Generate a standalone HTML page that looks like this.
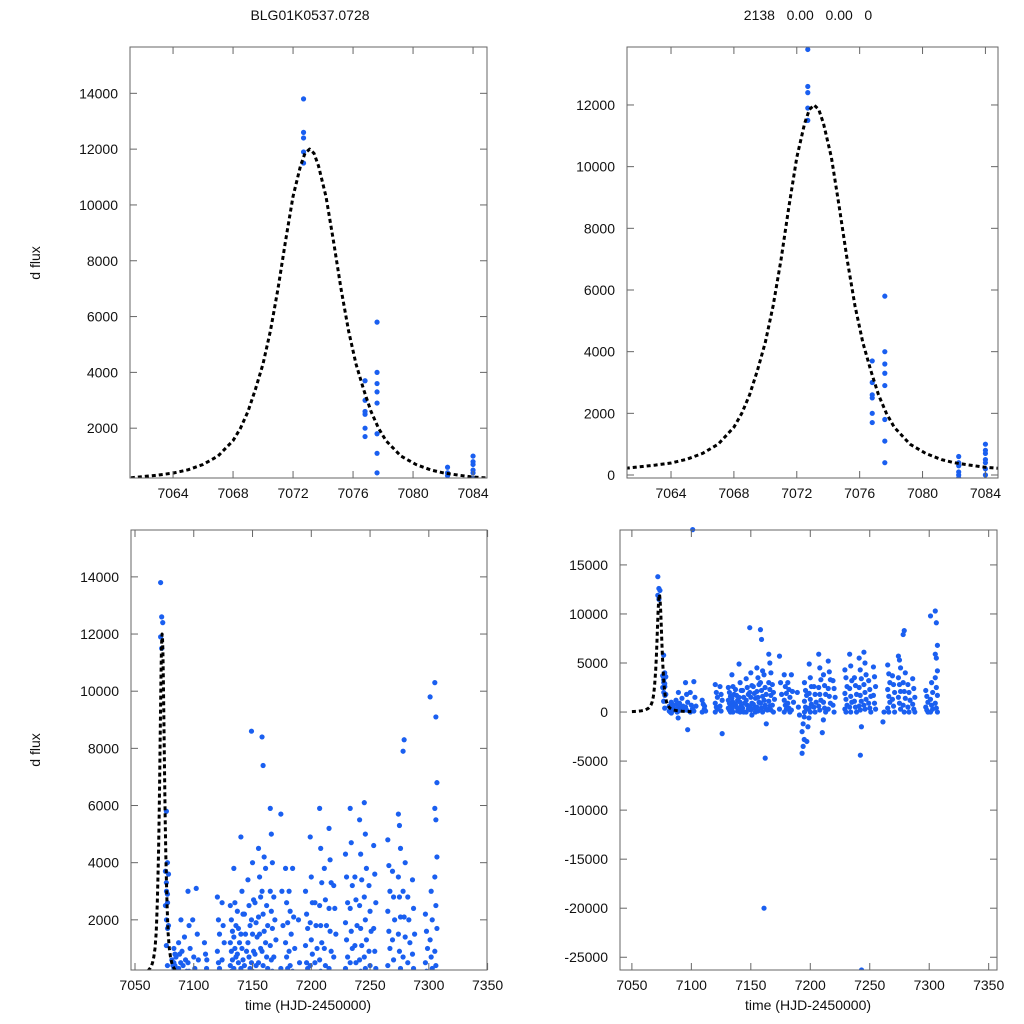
<!DOCTYPE html>
<html><head><meta charset="utf-8"><style>
html,body{margin:0;background:#fff;overflow:hidden;width:1024px;height:1024px}
svg{display:block}
svg text{font-family:"Liberation Sans",sans-serif;font-size:14px;fill:#111}
</style></head><body>
<svg id="c" width="1024" height="1024" viewBox="0 0 1024 1024">
<text x="310" y="20" text-anchor="middle">BLG01K0537.0728</text>
<text x="808" y="20" text-anchor="middle" xml:space="preserve">2138   0.00   0.00   0</text>
<text transform="translate(40,263) rotate(-90)" text-anchor="middle">d flux</text>
<text transform="translate(40,750) rotate(-90)" text-anchor="middle">d flux</text>
<text x="308" y="1010" text-anchor="middle">time (HJD-2450000)</text>
<text x="808" y="1010" text-anchor="middle">time (HJD-2450000)</text>
</svg>
<script>
const modelT=[7050,7055,7058,7060,7061,7063,7064,7065,7066,7067,7068,7068.5,7069,7069.5,7070,7070.5,7071,7071.5,7072,7072.5,7072.8,7073.1,7073.4,7073.7,7074.2,7074.7,7075.2,7075.7,7076.2,7076.7,7077.2,7077.7,7078.2,7079.2,7080.2,7081.2,7082,7083,7084,7085,7088,7092,7100];
const modelF=[40,80,130,180,210,320,390,510,700,1000,1550,2000,2600,3400,4300,5500,7000,8700,10300,11400,11850,12000,11850,11400,10300,8700,7000,5500,4300,3400,2600,2000,1550,1000,700,500,400,320,250,210,140,90,50];
const clusterT=[7072.7,7076.8,7077.6,7082.3,7084,7088,7090,7093,7096,7100,7102,7103,7110,7112,7121,7125,7132,7135,7138,7141,7144,7147,7150,7153,7156,7159,7162,7163,7166,7169,7175,7179,7182,7185,7190,7194,7196,7198,7200,7204,7208,7211,7212,7216,7220,7230,7234,7238,7242,7243,7244,7246,7250,7254,7262,7266,7270,7275,7279,7283,7287,7298,7302,7306];
const clusterF=[
[13800,12600,12400,11900,11500],
[3700,3000,2600,2500,2000,1700],
[5800,4000,3600,3300,2900,1800,1100,400],
[600,400,300,100,0,-100],
[1000,800,700,500,400,200,0],
[1200,800,500,300,0,-600],
[2000,900,400,100],
[1400,600,200],
[3000,1800,1000,500,200,-1800],
[2000,700,300,0],
[18600],
[3100,1500,600,100],
[1200,800,300,0],
[600,100],
[2800,2000,1500,900,500,300,0],
[2600,1800,1200,600,100,-2200],
[2500,2000,1600,1200,900,600,400,200,0],
[3800,2600,1800,1400,1000,700,300,0],
[2300,1700,1200,800,500,100],
[4900,3000,2200,1500,1000,600,300,0],
[2200,1500,900,400,0],
[3400,2500,1800,1200,700,300,0],
[8600,4000,2700,2000,1500,900,500,200,-300],
[2600,1900,1400,800,400,0],
[4500,3500,2800,2100,1500,1000,500,100],
[8400,7400,4200,3000,2200,1600,900,400,0],
[3800,2500,1800,1200,700,300,-20000],
[-4700,-1200,200],
[5900,5000,4000,3000,2300,1700,1100,600,200],
[2800,2000,1300,700,0],
[5700,3000,1800,300],
[3800,2600,1900,1200,700,300,0],
[3000,2300,1500,900,400,0],
[3800,2100,1000,200],
[2000,500,-300],
[-4200,-3500,-2800,-2000,-1200,-500],
[3000,2200,1700,1100,500,300,0],
[-3000,-1500,-600],
[4900,3500,2600,1900,1300,800,400,0],
[2600,1800,1000,500,0],
[5900,4500,3300,2500,1800,1200,600,200],
[-2100,-800],
[3800,2700,1800,1000,400,0],
[5200,4100,3300,2400,1600,900,300],
[3200,2400,1500,700,0],
[4300,3500,2600,1900,1300,700,300,0],
[5900,4700,3200,2400,1600,1000,500,0],
[3500,2700,1800,1100,500,0],
[5500,4300,3400,2500,1700,1100,600,200],
[-4400,-1500],
[-26300],
[6100,5000,3800,2800,2000,1300,700,300],
[3200,2300,1600,900,400,0],
[4600,3600,2600,1700,900,300],
[-1000,0],
[4800,3900,3000,2300,1600,1000,400,0],
[3700,2800,2000,1300,600,0],
[5700,5300,4500,3500,2800,2100,1500,900,300],
[7900,8300,4000,3000,2100,1400,700,0],
[2800,2000,1200,500,0],
[3400,2400,1500,800,300,0],
[2200,1600,1000,500,200,0],
[9800,3000,2000,1300,700,300,0],
[10300,9100,6800,5900,5500,4200,3500,2500,1700,900,400,0]];
const ticksTopX=[7064,7068,7072,7076,7080,7084];
const ticksBotX=[7050,7100,7150,7200,7250,7300,7350];
const ticksTL=[2000,4000,6000,8000,10000,12000,14000];
const ticksTR=[0,2000,4000,6000,8000,10000,12000];
const ticksBR=[-25000,-20000,-15000,-10000,-5000,0,5000,10000,15000];

const NS="http://www.w3.org/2000/svg";
const svg=document.getElementById('c');
function mk(tag,at,parent){const e=document.createElementNS(NS,tag);for(const k in at)e.setAttribute(k,at[k]);(parent||svg).appendChild(e);return e;}

const panels=[
 {id:'tl',x0:130,x1:487,y0:47,y1:478,tmin:7061.13,tmax:7084.93,fmin:215,fmax:15660,xt:ticksTopX,yt:ticksTL,tcut:[7060,7086]},
 {id:'tr',x0:627,x1:998,y0:47,y1:478,tmin:7061.2,tmax:7084.8,fmin:-97,fmax:13880,xt:ticksTopX,yt:ticksTR,tcut:[7060,7086]},
 {id:'bl',x0:131,x1:487,y0:530,y1:970,tmin:7046.6,tmax:7349.5,fmin:245,fmax:15640,xt:ticksBotX,yt:ticksTL,tcut:[7000,7400]},
 {id:'br',x0:620,x1:997,y0:530,y1:970,tmin:7040,tmax:7357,fmin:-26300,fmax:18560,xt:ticksBotX,yt:ticksBR,tcut:[7000,7400]}];

panels.forEach(p=>{
 const sx=t=>p.x0+(t-p.tmin)/(p.tmax-p.tmin)*(p.x1-p.x0);
 const sy=f=>p.y1-(f-p.fmin)/(p.fmax-p.fmin)*(p.y1-p.y0);
 const g=mk('g',{});
 
 
 const cp=mk('clipPath',{id:'clip-'+p.id},g);
 mk('rect',{x:p.x0,y:p.y0-3,width:p.x1-p.x0,height:p.y1-p.y0+3},cp);
 const pts=mk('g',{'clip-path':'url(#clip-'+p.id+')',fill:'#1a5ff0'},g);
 
 
 clusterT.forEach((t,i)=>{
  if(t<p.tcut[0]||t>p.tcut[1])return;
  clusterF[i].forEach((f,j)=>{
   const off=p.id[0]==='b'?((j%3)-1)*0.9:0;
   const c=mk('circle',{cx:sx(t+off),cy:sy(f),r:2.6},pts);
   
   
  });
 });
 const d=modelT.map((t,i)=>(i?'L':'M')+sx(t).toFixed(1)+','+sy(modelF[i]).toFixed(1)).join('');
 const ln=mk('path',{d:d,fill:'none',stroke:'#000','stroke-width':3,'stroke-dasharray':'4 3','stroke-linejoin':'round','clip-path':'url(#clip-'+p.id+')'},g);
 
 
 const box=mk('rect',{x:p.x0,y:p.y0,width:p.x1-p.x0,height:p.y1-p.y0,fill:'none',stroke:'#666','stroke-width':1},g);
 
 
 p.xt.forEach(t=>{
  const x=sx(t); if(x<p.x0-3||x>p.x1+3)return;
  mk('line',{x1:x,x2:x,y1:p.y1,y2:p.y1-7,stroke:'#666'},g);
  mk('line',{x1:x,x2:x,y1:p.y0,y2:p.y0+7,stroke:'#666'},g);
  const tx=mk('text',{x:x,y:p.y1+20,'text-anchor':'middle'},g);
  tx.textContent=t;
  
  
 });
 p.yt.forEach(f=>{
  const y=sy(f); if(y<p.y0-1||y>p.y1+1)return;
  mk('line',{x1:p.x0,x2:p.x0+7,y1:y,y2:y,stroke:'#666'},g);
  mk('line',{x1:p.x1,x2:p.x1-7,y1:y,y2:y,stroke:'#666'},g);
  const tx=mk('text',{x:p.x0-12,y:y+5,'text-anchor':'end'},g);
  tx.textContent=f;
  
  
 });
});
</script>
</body></html>
